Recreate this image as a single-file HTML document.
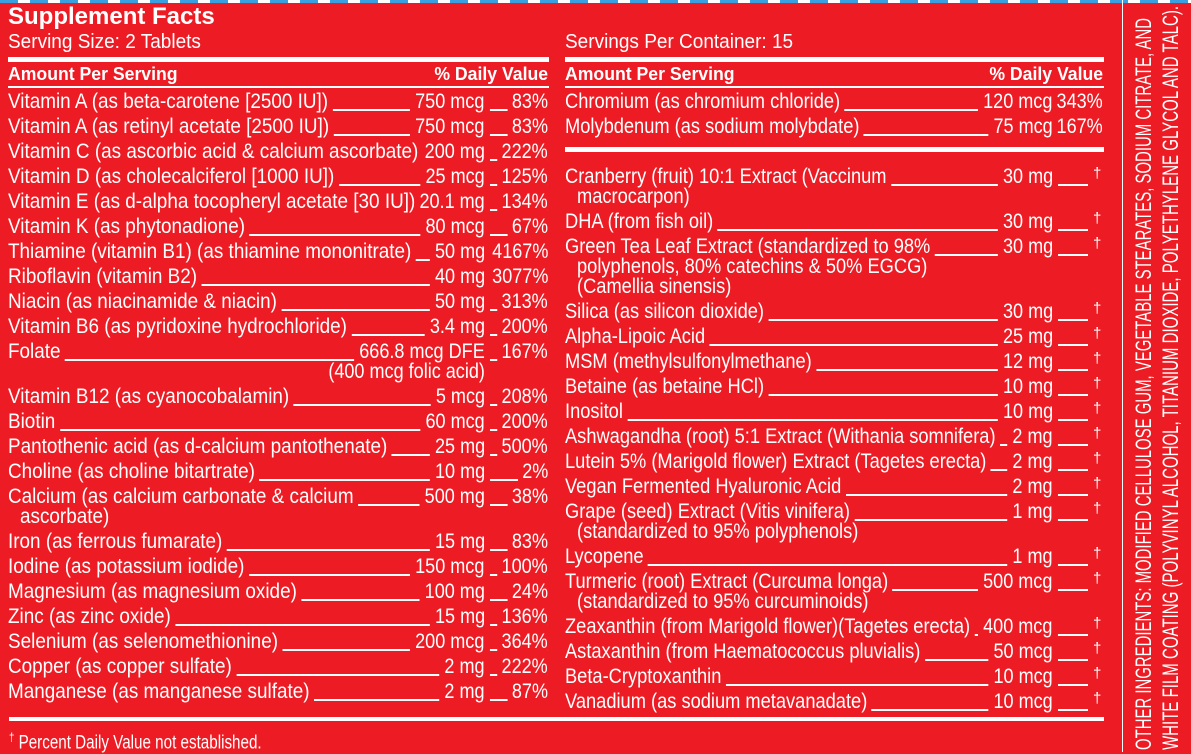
<!DOCTYPE html>
<html><head><meta charset="utf-8"><style>
*{margin:0;padding:0;box-sizing:border-box}
body{width:1191px;height:752px;background:#ED1C24;position:relative;overflow:hidden;font-family:"Liberation Sans",sans-serif;color:#fff}
.top{position:absolute;left:0;top:0;width:1191px;height:3px;background:repeating-linear-gradient(90deg,#3aa0e0 0 18px,#fff 18px 30px)}
.r{position:absolute;left:0;width:1191px;height:24px}
.r span{position:absolute;top:0;line-height:24px;font-size:21px;white-space:nowrap;background:#ED1C24}
.n{transform:scaleX(.9);transform-origin:left center;padding-right:5px}
.R .n{transform:scaleX(.87)}
.a{transform:scaleX(.86);transform-origin:right center;padding:0 6px 0 6px}
.d{transform:scaleX(.86);transform-origin:right center;padding-left:5px}
.ln{position:absolute;top:19px;height:1.5px;background:#fff}
.L .n{left:8px}.L .a{right:701px}.L .d{right:643px}.L .ln{left:8px;width:540px}
.R .n{left:565px}.R .a{right:133px}.R .d{right:88px}.R .ln{left:565px;width:523px}
.R .ln.s{width:487px}
.R .dg{position:absolute;left:1093px;top:-1px;font-size:15px;background:none;line-height:20px}
.c{background:none!important}
.hr{position:absolute;background:#fff}
</style></head><body>
<div class="top"></div>
<div style="position:absolute;left:8px;top:3px;font-size:24px;font-weight:bold;line-height:28px">Supplement Facts</div>
<div style="position:absolute;left:8px;top:30px;font-size:20px;line-height:24px;transform:scaleX(.95);transform-origin:left">Serving Size: 2 Tablets</div>
<div style="position:absolute;left:565px;top:30px;font-size:20px;line-height:24px;transform:scaleX(.95);transform-origin:left">Servings Per Container: 15</div>
<div class="hr" style="left:8px;top:57px;width:541px;height:5px"></div>
<div class="hr" style="left:565px;top:57px;width:539px;height:5px"></div>
<div style="position:absolute;left:8px;top:63px;font-size:18px;font-weight:bold;line-height:22px;transform:scaleX(.98);transform-origin:left">Amount Per Serving</div>
<div style="position:absolute;right:643px;top:63px;font-size:18px;font-weight:bold;line-height:22px;transform:scaleX(.98);transform-origin:right">% Daily Value</div>
<div style="position:absolute;left:565px;top:63px;font-size:18px;font-weight:bold;line-height:22px;transform:scaleX(.98);transform-origin:left">Amount Per Serving</div>
<div style="position:absolute;right:88px;top:63px;font-size:18px;font-weight:bold;line-height:22px;transform:scaleX(.98);transform-origin:right">% Daily Value</div>
<div class="hr" style="left:8px;top:86px;width:541px;height:2px"></div>
<div class="hr" style="left:565px;top:86px;width:539px;height:2px"></div>
<div class="hr" style="left:565px;top:147px;width:539px;height:5px"></div>
<div class="hr" style="left:9px;top:717px;width:1095px;height:4px"></div>
<div class="hr" style="left:1122px;top:0;width:1px;height:752px"></div>

<div class="L">
<div class="r" style="top:90px"><div class="ln"></div><span class="n">Vitamin A (as beta-carotene [2500 IU])</span><span class="a">750 mcg</span><span class="d">83%</span></div>
<div class="r" style="top:115px"><div class="ln"></div><span class="n">Vitamin A (as retinyl acetate [2500 IU])</span><span class="a">750 mcg</span><span class="d">83%</span></div>
<div class="r" style="top:140px"><div class="ln"></div><span class="n">Vitamin C (as ascorbic acid &amp; calcium ascorbate)</span><span class="a">200 mg</span><span class="d">222%</span></div>
<div class="r" style="top:165px"><div class="ln"></div><span class="n">Vitamin D (as cholecalciferol [1000 IU])</span><span class="a">25 mcg</span><span class="d">125%</span></div>
<div class="r" style="top:190px"><div class="ln"></div><span class="n">Vitamin E (as d-alpha tocopheryl acetate [30 IU])</span><span class="a">20.1 mg</span><span class="d">134%</span></div>
<div class="r" style="top:215px"><div class="ln"></div><span class="n">Vitamin K (as phytonadione)</span><span class="a">80 mcg</span><span class="d">67%</span></div>
<div class="r" style="top:240px"><div class="ln"></div><span class="n">Thiamine (vitamin B1) (as thiamine mononitrate)</span><span class="a">50 mg</span><span class="d">4167%</span></div>
<div class="r" style="top:265px"><div class="ln"></div><span class="n">Riboflavin (vitamin B2)</span><span class="a">40 mg</span><span class="d">3077%</span></div>
<div class="r" style="top:290px"><div class="ln"></div><span class="n">Niacin (as niacinamide &amp; niacin)</span><span class="a">50 mg</span><span class="d">313%</span></div>
<div class="r" style="top:315px"><div class="ln"></div><span class="n">Vitamin B6 (as pyridoxine hydrochloride)</span><span class="a">3.4 mg</span><span class="d">200%</span></div>
<div class="r" style="top:340px"><div class="ln"></div><span class="n">Folate</span><span class="a">666.8 mcg DFE</span><span class="d">167%</span></div>
<div class="r" style="top:360px"><span class="a c">(400 mcg folic acid)</span></div>
<div class="r" style="top:385px"><div class="ln"></div><span class="n">Vitamin B12 (as cyanocobalamin)</span><span class="a">5 mcg</span><span class="d">208%</span></div>
<div class="r" style="top:410px"><div class="ln"></div><span class="n">Biotin</span><span class="a">60 mcg</span><span class="d">200%</span></div>
<div class="r" style="top:435px"><div class="ln"></div><span class="n">Pantothenic acid (as d-calcium pantothenate)</span><span class="a">25 mg</span><span class="d">500%</span></div>
<div class="r" style="top:460px"><div class="ln"></div><span class="n">Choline (as choline bitartrate)</span><span class="a">10 mg</span><span class="d">2%</span></div>
<div class="r" style="top:485px"><div class="ln"></div><span class="n">Calcium (as calcium carbonate &amp; calcium</span><span class="a">500 mg</span><span class="d">38%</span></div>
<div class="r" style="top:505px"><span class="n c" style="left:20px">ascorbate)</span></div>
<div class="r" style="top:530px"><div class="ln"></div><span class="n">Iron (as ferrous fumarate)</span><span class="a">15 mg</span><span class="d">83%</span></div>
<div class="r" style="top:555px"><div class="ln"></div><span class="n">Iodine (as potassium iodide)</span><span class="a">150 mcg</span><span class="d">100%</span></div>
<div class="r" style="top:580px"><div class="ln"></div><span class="n">Magnesium (as magnesium oxide)</span><span class="a">100 mg</span><span class="d">24%</span></div>
<div class="r" style="top:605px"><div class="ln"></div><span class="n">Zinc (as zinc oxide)</span><span class="a">15 mg</span><span class="d">136%</span></div>
<div class="r" style="top:630px"><div class="ln"></div><span class="n">Selenium (as selenomethionine)</span><span class="a">200 mcg</span><span class="d">364%</span></div>
<div class="r" style="top:655px"><div class="ln"></div><span class="n">Copper (as copper sulfate)</span><span class="a">2 mg</span><span class="d">222%</span></div>
<div class="r" style="top:680px"><div class="ln"></div><span class="n">Manganese (as manganese sulfate)</span><span class="a">2 mg</span><span class="d">87%</span></div>
</div>

<div class="R">
<div class="r" style="top:90px"><div class="ln s"></div><span class="n">Chromium (as chromium chloride)</span><span class="a">120 mcg</span><span class="d">343%</span></div>
<div class="r" style="top:115px"><div class="ln s"></div><span class="n">Molybdenum (as sodium molybdate)</span><span class="a">75 mcg</span><span class="d">167%</span></div>
<div class="r" style="top:165px"><div class="ln"></div><span class="n">Cranberry (fruit) 10:1 Extract (Vaccinum</span><span class="a">30 mg</span><span class="dg">†</span></div>
<div class="r" style="top:185px"><span class="n c" style="left:577px">macrocarpon)</span></div>
<div class="r" style="top:210px"><div class="ln"></div><span class="n">DHA (from fish oil)</span><span class="a">30 mg</span><span class="dg">†</span></div>
<div class="r" style="top:235px"><div class="ln"></div><span class="n">Green Tea Leaf Extract (standardized to 98%</span><span class="a">30 mg</span><span class="dg">†</span></div>
<div class="r" style="top:255px"><span class="n c" style="left:577px">polyphenols, 80% catechins &amp; 50% EGCG)</span></div>
<div class="r" style="top:275px"><span class="n c" style="left:577px">(Camellia sinensis)</span></div>
<div class="r" style="top:300px"><div class="ln"></div><span class="n">Silica (as silicon dioxide)</span><span class="a">30 mg</span><span class="dg">†</span></div>
<div class="r" style="top:325px"><div class="ln"></div><span class="n">Alpha-Lipoic Acid</span><span class="a">25 mg</span><span class="dg">†</span></div>
<div class="r" style="top:350px"><div class="ln"></div><span class="n">MSM (methylsulfonylmethane)</span><span class="a">12 mg</span><span class="dg">†</span></div>
<div class="r" style="top:375px"><div class="ln"></div><span class="n">Betaine (as betaine HCl)</span><span class="a">10 mg</span><span class="dg">†</span></div>
<div class="r" style="top:400px"><div class="ln"></div><span class="n">Inositol</span><span class="a">10 mg</span><span class="dg">†</span></div>
<div class="r" style="top:425px"><div class="ln"></div><span class="n">Ashwagandha (root) 5:1 Extract (Withania somnifera)</span><span class="a">2 mg</span><span class="dg">†</span></div>
<div class="r" style="top:450px"><div class="ln"></div><span class="n">Lutein 5% (Marigold flower) Extract (Tagetes erecta)</span><span class="a">2 mg</span><span class="dg">†</span></div>
<div class="r" style="top:475px"><div class="ln"></div><span class="n">Vegan Fermented Hyaluronic Acid</span><span class="a">2 mg</span><span class="dg">†</span></div>
<div class="r" style="top:500px"><div class="ln"></div><span class="n">Grape (seed) Extract (Vitis vinifera)</span><span class="a">1 mg</span><span class="dg">†</span></div>
<div class="r" style="top:520px"><span class="n c" style="left:577px">(standardized to 95% polyphenols)</span></div>
<div class="r" style="top:545px"><div class="ln"></div><span class="n">Lycopene</span><span class="a">1 mg</span><span class="dg">†</span></div>
<div class="r" style="top:570px"><div class="ln"></div><span class="n">Turmeric (root) Extract (Curcuma longa)</span><span class="a">500 mcg</span><span class="dg">†</span></div>
<div class="r" style="top:590px"><span class="n c" style="left:577px">(standardized to 95% curcuminoids)</span></div>
<div class="r" style="top:615px"><div class="ln"></div><span class="n">Zeaxanthin (from Marigold flower)(Tagetes erecta)</span><span class="a">400 mcg</span><span class="dg">†</span></div>
<div class="r" style="top:640px"><div class="ln"></div><span class="n">Astaxanthin (from Haematococcus pluvialis)</span><span class="a">50 mcg</span><span class="dg">†</span></div>
<div class="r" style="top:665px"><div class="ln"></div><span class="n">Beta-Cryptoxanthin</span><span class="a">10 mcg</span><span class="dg">†</span></div>
<div class="r" style="top:690px"><div class="ln"></div><span class="n">Vanadium (as sodium metavanadate)</span><span class="a">10 mcg</span><span class="dg">†</span></div>
</div>

<div style="position:absolute;left:9px;top:726px;font-size:19px;line-height:22px;transform:scaleX(.8);transform-origin:left"><sup style="font-size:12px">†</sup> Percent Daily Value not established.</div>

<svg style="position:absolute;left:0;top:0" width="1191" height="752">
<text transform="translate(1151,750) rotate(-90)" font-family="Liberation Sans, sans-serif" font-size="22" fill="#fff" textLength="732" lengthAdjust="spacingAndGlyphs">OTHER INGREDIENTS: MODIFIED CELLULOSE GUM, VEGETABLE STEARATES, SODIUM CITRATE, AND</text>
<text transform="translate(1178,750) rotate(-90)" font-family="Liberation Sans, sans-serif" font-size="22" fill="#fff" textLength="744" lengthAdjust="spacingAndGlyphs">WHITE FILM COATING (POLYVINYL ALCOHOL, TITANIUM DIOXIDE, POLYETHYLENE GLYCOL AND TALC).</text>
</svg>
</body></html>
